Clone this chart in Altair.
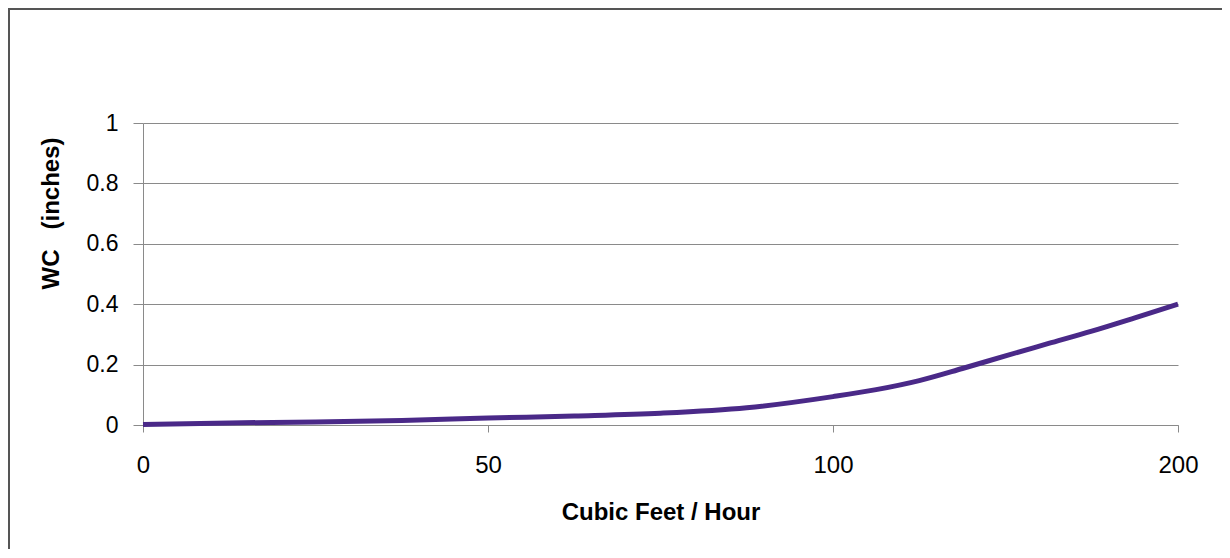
import altair as alt
import pandas as pd

# Data
flow = [0, 12.5, 25, 37.5, 50, 62.5, 75, 87.5, 100, 112.5, 125, 137.5, 150, 162.5, 175, 187.5, 200]
wc = [0.002, 0.007, 0.010, 0.015, 0.023, 0.030, 0.039, 0.057, 0.094, 0.117, 0.147, 0.187, 0.229, 0.270, 0.311, 0.355, 0.400]
x_ticks = [0, 50, 100, 200]
y_ticks = [0, 0.2, 0.4, 0.6, 0.8, 1]

df = pd.DataFrame({"flow": flow, "wc": wc})

W, H = 1035, 302
FONT = "Liberation Sans"
GRAY = "#8a8a8a"
NB = "\u00a0"

line = alt.Chart(df).mark_line(
    color="#4a2988", strokeWidth=5, interpolate="monotone"
).encode(
    x=alt.X(
        "flow:Q",
        scale=alt.Scale(domain=x_ticks, range=[0, W / 3, 2 * W / 3, W], nice=False, zero=False),
        axis=alt.Axis(
            values=x_ticks, format="d", grid=False, tickSize=7, tickColor=GRAY,
            domainColor=GRAY, labelFont=FONT, labelFontSize=24, labelColor="black",
            labelFlush=False, labelOverlap=False,
            labelPadding=21, title="Cubic Feet / Hour", titleFont=FONT,
            titleFontSize=24, titleFontWeight="bold", titleColor="black",
            titleY=87, titleBaseline="middle",
        ),
    ),
    y=alt.Y(
        "wc:Q",
        scale=alt.Scale(domain=[0, 1], nice=False),
        axis=alt.Axis(
            values=y_ticks, format="~g", grid=True, gridColor=GRAY, tickSize=10,
            tickColor=GRAY, domainColor=GRAY, labelFont=FONT, labelFontSize=23,
            labelColor="black", labelPadding=15, labelFlush=False,
            title="WC" + NB * 3 + "(inches)",
            titleFont=FONT, titleFontSize=24, titleFontWeight="bold",
            titleColor="black", titleAngle=270, titleAlign="center",
            titleBaseline="middle", titleX=-92, titleY=90,
        ),
    ),
)

frame_data = alt.Data(values=[{"k": 1}])
left_rule = alt.Chart(frame_data).mark_rule(color="#555555", strokeWidth=2).encode(
    x=alt.value(-134), y=alt.value(-114), y2=alt.value(H + 124)
)
top_rule = alt.Chart(frame_data).mark_rule(color="#555555", strokeWidth=2).encode(
    x=alt.value(-135), x2=alt.value(W + 44), y=alt.value(-114)
)

chart = alt.layer(line, left_rule, top_rule).properties(
    width=W, height=H,
    autosize=alt.AutoSizeParams(type="none"),
    padding={"left": 135, "top": 115, "right": 44, "bottom": 124},
    background="white",
).configure_view(stroke=None)

chart.save("out.html", embed_options={"renderer": "svg", "actions": False})
